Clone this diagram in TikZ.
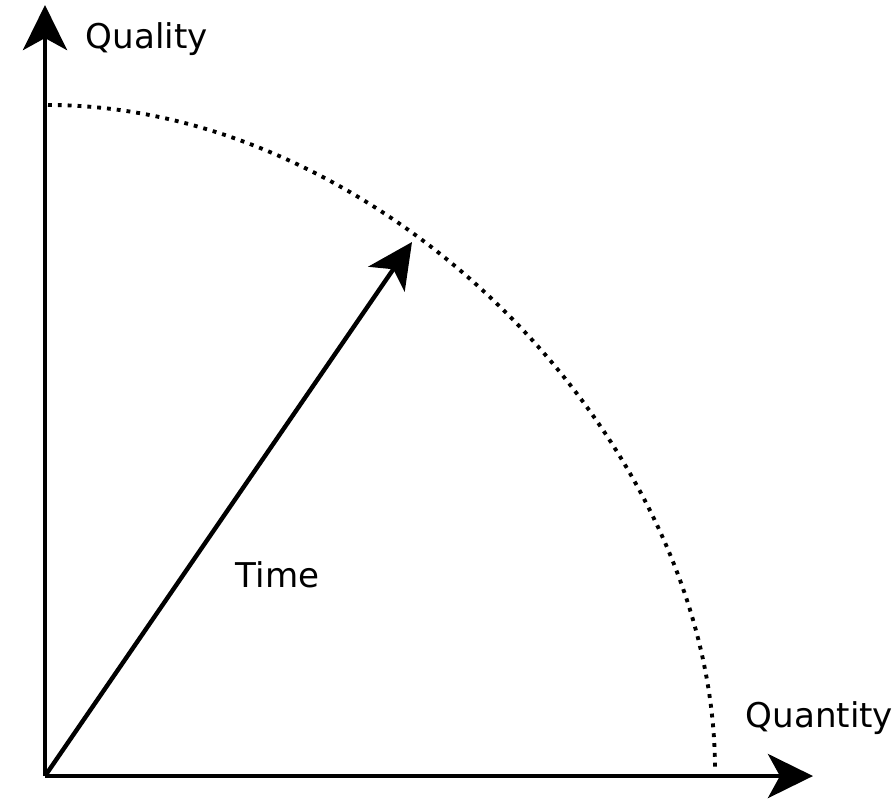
\documentclass[tikz,border=0pt]{standalone}
\usepackage{fontspec}
\setmainfont{DejaVu Sans}
\usetikzlibrary{arrows.meta}

\begin{document}
\begin{tikzpicture}[x=0.01cm, y=-0.01cm, >={Stealth[length=12.8pt, width=12.5pt, inset=3.4pt]},
  lbl/.style={font=\fontsize{9.7pt}{12pt}\selectfont, inner sep=0pt, anchor=base west}]
  \useasboundingbox (0,0) rectangle (895,799);
  \coordinate (O) at (45,776);
  \coordinate (Ytip) at (45,5);
  \coordinate (Xtip) at (813,776);
  \coordinate (T) at (412,242);
  \coordinate (A) at (48,105);
  \coordinate (B) at (715,770);

  % axes
  \draw[->, line width=1.4pt] (O) -- (Ytip);
  \draw[->, line width=1.4pt] (O) -- (Xtip);
  % time vector
  \draw[->, line width=1.25pt] (O) -- (T);
  % limit curve
  \draw[line width=1.1pt, dash pattern=on 1.1pt off 1.7pt]
    (A) .. controls (383,105) and (715,440) .. (B);

  \node[lbl] (qual) at (85,48) {Quality};
  \node[lbl] (time) at (235,587) {Time};
  \node[lbl] (quant) at (745,727) {Quantity};
\end{tikzpicture}
\end{document}
